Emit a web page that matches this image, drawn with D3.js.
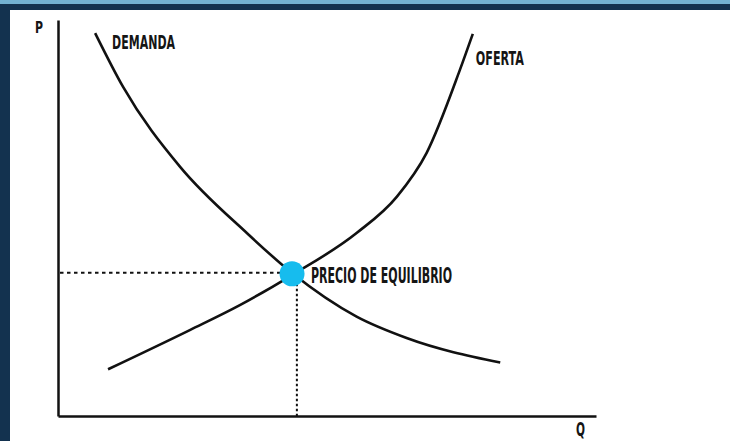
<!DOCTYPE html>
<html>
<head>
<meta charset="utf-8">
<script src="https://cdn.jsdelivr.net/npm/d3@7"></script>
<style>
  body { margin: 0; background: #fff; }
  .lbl { font-family: "Liberation Sans Narrow", "DejaVu Sans Condensed", "Liberation Sans", sans-serif; font-weight: bold; fill: #151515; }
</style>
</head>
<body>
<div id="chart"></div>
<script>
// curve points in chart units (Q, P)
const demandQ = [6.9, 12.1, 22.7, 35.1, 43.5, 55.5, 64.8, 82.2];
const demandP = [96.7, 83.1, 62.9, 46.2, 36.1, 25.1, 19.7, 13.5];
const supplyQ = [9.3, 24.5, 33.8, 43.5, 55.5, 63.0, 68.5, 74.7, 77.1];
const supplyP = [11.8, 21.7, 28.0, 35.6, 46.2, 55.4, 66.4, 87.4, 96.5];
const equilibrium = [43.5, 35.9];
const guideQ = 44.4;
const labels = ["P", "Q", "DEMANDA", "OFERTA", "PRECIO DE EQUILIBRIO"];

const W = 730, H = 441;
const svg = d3.select("#chart").append("svg")
    .attr("width", W)
    .attr("height", H);

// frame
svg.append("rect").attr("x", 0).attr("y", 0).attr("width", W).attr("height", 10).attr("fill", "#13324f");
svg.append("rect").attr("x", 0).attr("y", 0).attr("width", W).attr("height", 4).attr("fill", "#73b2d2");
svg.append("rect").attr("x", 0).attr("y", 4).attr("width", 10).attr("height", H).attr("fill", "#13324f");

const x = d3.scaleLinear().domain([0, 100]).range([58, 596]);
const y = d3.scaleLinear().domain([0, 100]).range([416, 20]);

// axes, no ticks
svg.append("g")
    .attr("transform", "translate(0," + y(0) + ")")
    .call(d3.axisBottom(x).ticks(0).tickSizeOuter(0))
    .select(".domain").attr("stroke", "#111").attr("stroke-width", 2.5);
svg.append("g")
    .attr("transform", "translate(" + x(0) + ",0)")
    .call(d3.axisLeft(y).ticks(0).tickSizeOuter(0))
    .select(".domain").attr("stroke", "#111").attr("stroke-width", 2.5);

// dotted guides
svg.append("line")
    .attr("x1", x(0) + 2).attr("x2", x(equilibrium[0]))
    .attr("y1", y(equilibrium[1]) - 1).attr("y2", y(equilibrium[1]) - 1)
    .attr("stroke", "#111").attr("stroke-width", 2)
    .attr("stroke-dasharray", "3.5,3.5");
svg.append("line")
    .attr("x1", x(guideQ)).attr("x2", x(guideQ))
    .attr("y1", y(equilibrium[1])).attr("y2", y(0))
    .attr("stroke", "#111").attr("stroke-width", 2)
    .attr("stroke-dasharray", "2.5,2.5");

const line = d3.line()
    .x(d => x(d[0]))
    .y(d => y(d[1]))
    .curve(d3.curveMonotoneX);

const demand = d3.zip(demandQ, demandP);
const supply = d3.zip(supplyQ, supplyP);

svg.append("path").datum(demand)
    .attr("d", line).attr("fill", "none")
    .attr("stroke", "#111").attr("stroke-width", 2.6);
svg.append("path").datum(supply)
    .attr("d", line).attr("fill", "none")
    .attr("stroke", "#111").attr("stroke-width", 2.6);

svg.append("circle")
    .attr("cx", x(equilibrium[0]))
    .attr("cy", y(equilibrium[1]))
    .attr("r", 12.5)
    .attr("fill", "#16bcee");

// labels
function label(txt, px, py, size, len) {
    svg.append("text")
        .attr("class", "lbl")
        .attr("x", px).attr("y", py)
        .attr("font-size", size)
        .attr("textLength", len)
        .attr("lengthAdjust", "spacingAndGlyphs")
        .text(txt);
}
label(labels[0], 35, 33, 15, 8);
label(labels[1], 576, 436, 19, 9);
label(labels[2], x(demandQ[0]) + 17, 49, 20, 63);
label(labels[3], x(supplyQ[supplyQ.length - 1]) + 3, 65, 20, 48);
label(labels[4], x(equilibrium[0]) + 19, 283, 21, 141);
</script>
</body>
</html>
